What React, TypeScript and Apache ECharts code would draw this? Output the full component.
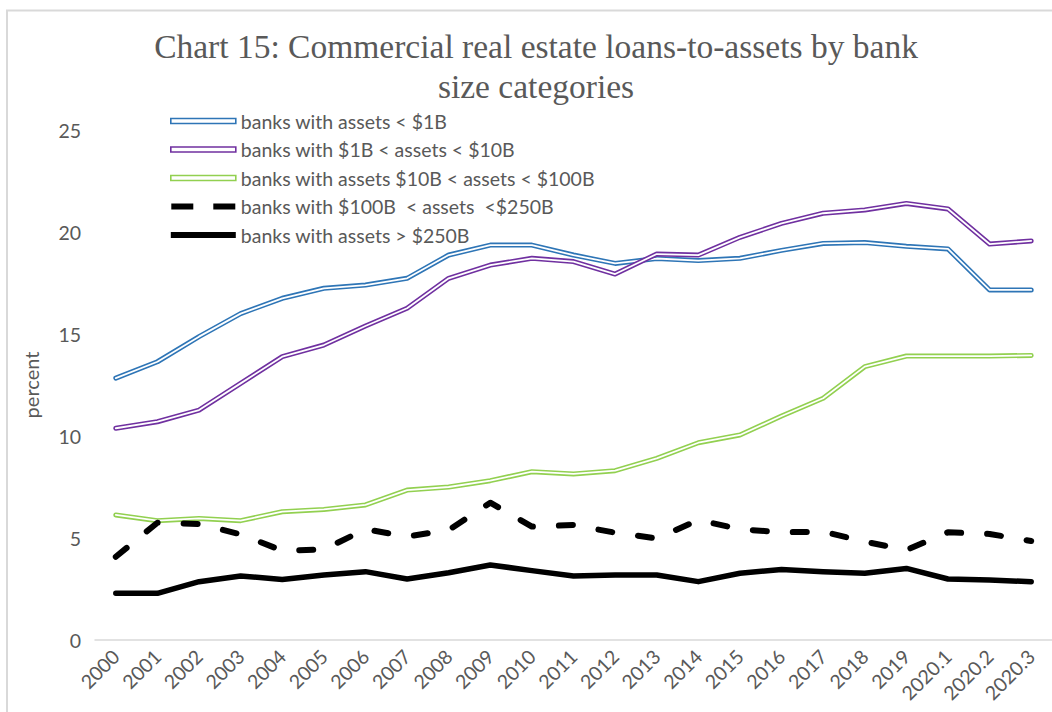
import React, { useEffect, useRef } from "react";
import * as echarts from "echarts";

const categories = [
  "2000", "2001", "2002", "2003", "2004", "2005", "2006", "2007", "2008", "2009",
  "2010", "2011", "2012", "2013", "2014", "2015", "2016", "2017", "2018", "2019",
  "2020.1", "2020.2", "2020.3",
];

const seriesNames = [
  "banks with assets < $1B",
  "banks with $1B < assets < $10B",
  "banks with assets $10B < assets < $100B",
  "banks with $100B  < assets  <$250B",
  "banks with assets > $250B",
];

const under1B = [12.84, 13.64, 14.87, 16.0, 16.75, 17.24, 17.4, 17.73, 18.87, 19.36, 19.36, 18.87, 18.46, 18.7, 18.6, 18.71, 19.1, 19.44, 19.48, 19.3, 19.17, 17.16, 17.16];
const from1to10B = [10.38, 10.7, 11.27, 12.58, 13.89, 14.46, 15.39, 16.26, 17.73, 18.38, 18.71, 18.55, 17.94, 18.92, 18.87, 19.74, 20.42, 20.92, 21.08, 21.4, 21.13, 19.41, 19.56];
const from10to100B = [6.13, 5.85, 5.96, 5.85, 6.29, 6.4, 6.62, 7.35, 7.5, 7.81, 8.25, 8.14, 8.3, 8.9, 9.67, 10.05, 10.98, 11.85, 13.4, 13.92, 13.92, 13.92, 13.95];
const from100to250B = [4.08, 5.75, 5.69, 5.18, 4.38, 4.44, 5.43, 5.07, 5.39, 6.73, 5.56, 5.64, 5.26, 4.98, 5.88, 5.43, 5.28, 5.31, 4.82, 4.41, 5.28, 5.2, 4.85];
const over250B = [2.29, 2.29, 2.86, 3.14, 2.97, 3.19, 3.35, 2.99, 3.3, 3.68, 3.4, 3.14, 3.19, 3.19, 2.86, 3.27, 3.46, 3.35, 3.27, 3.51, 2.99, 2.94, 2.86];

const yTicks = [0, 5, 10, 15, 20, 25];

const BLUE = "#2E75B6";
const PURPLE = "#7030A0";
const GREEN = "#92D050";
const GRAY_TEXT = "#595959";
const SANS = "Lato";

function doubleLine(name: string, data: number[], color: string, z: number) {
  return [
    {
      name,
      type: "line",
      data,
      symbol: "none",
      z,
      lineStyle: { color, width: 5, cap: "round", join: "round" },
      itemStyle: { color },
    },
    {
      name: name + " (core)",
      type: "line",
      data,
      symbol: "none",
      silent: true,
      z: z + 1,
      lineStyle: { color: "#ffffff", width: 1.8, cap: "round", join: "round" },
      itemStyle: { color: "#ffffff" },
    },
  ];
}

export default function App() {
  const ref = useRef<HTMLDivElement>(null);

  useEffect(() => {
    const chart = echarts.init(ref.current!, null, { renderer: "svg" });
    const outlineIcon = "path://M0,0H65V5H0Z";
    chart.setOption({
      animation: false,
      backgroundColor: "#ffffff",
      title: {
        text: "Chart 15: Commercial real estate loans-to-assets by bank\nsize categories",
        left: 536,
        textAlign: "center",
        top: 26,
        padding: 0,
        textStyle: {
          fontFamily: "Liberation Serif",
          fontSize: 33.5,
          fontWeight: "normal",
          color: GRAY_TEXT,
          lineHeight: 40,
        },
      },
      graphic: [
        {
          type: "rect",
          silent: true,
          z: -10,
          shape: { x: 7, y: 10.5, width: 1200, height: 900 },
          style: { fill: "none", stroke: "#d9d9d9", lineWidth: 2 },
        },
      ],
      legend: {
        orient: "vertical",
        left: 170,
        top: 111,
        padding: 0,
        itemWidth: 65,
        itemHeight: 6,
        itemGap: 8.5,
        selectedMode: false,
        textStyle: { fontFamily: SANS, fontSize: 19.5, color: GRAY_TEXT },
        data: [
          { name: seriesNames[0], icon: outlineIcon, itemStyle: { color: "#ffffff", borderColor: BLUE, borderWidth: 1.6 } },
          { name: seriesNames[1], icon: outlineIcon, itemStyle: { color: "#ffffff", borderColor: PURPLE, borderWidth: 1.6 } },
          { name: seriesNames[2], icon: outlineIcon, itemStyle: { color: "#ffffff", borderColor: GREEN, borderWidth: 1.6 } },
          { name: seriesNames[3], icon: "path://M0,0H22V6H0Z M42,0H64V6H42Z", itemStyle: { color: "#000000", borderWidth: 0 } },
          { name: seriesNames[4], icon: "path://M0,0H65V6H0Z", itemStyle: { color: "#000000", borderWidth: 0 } },
        ],
      },
      grid: { left: 95, top: 130, width: 959, height: 510, containLabel: false },
      xAxis: {
        type: "category",
        data: categories,
        boundaryGap: true,
        axisLine: { show: true, lineStyle: { color: "#d9d9d9", width: 1.5 } },
        axisTick: { show: false },
        axisLabel: {
          rotate: 45,
          interval: 0,
          margin: 13,
          fontFamily: SANS,
          fontSize: 19.5,
          color: GRAY_TEXT,
        },
      },
      yAxis: {
        type: "value",
        min: yTicks[0],
        max: yTicks[yTicks.length - 1],
        interval: 5,
        name: "percent",
        nameLocation: "middle",
        nameRotate: 90,
        nameGap: 54,
        nameTextStyle: { fontFamily: SANS, fontSize: 20, color: GRAY_TEXT },
        axisLine: { show: false },
        axisTick: { show: false },
        splitLine: { show: false },
        axisLabel: { margin: 14, fontFamily: SANS, fontSize: 19.5, color: GRAY_TEXT },
      },
      series: [
        ...doubleLine(seriesNames[0], under1B, BLUE, 2),
        ...doubleLine(seriesNames[1], from1to10B, PURPLE, 4),
        ...doubleLine(seriesNames[2], from10to100B, GREEN, 6),
        {
          name: seriesNames[3],
          type: "line",
          data: from100to250B,
          symbol: "none",
          z: 8,
          lineStyle: { color: "#000000", width: 6, type: [14, 26], cap: "round", join: "round" },
          itemStyle: { color: "#000000" },
        },
        {
          name: seriesNames[4],
          type: "line",
          data: over250B,
          symbol: "none",
          z: 9,
          lineStyle: { color: "#000000", width: 5.5, cap: "round", join: "round" },
          itemStyle: { color: "#000000" },
        },
      ],
    });
    return () => chart.dispose();
  }, []);

  return (
    <div
      ref={ref}
      style={{ position: "fixed", left: 0, top: 0, width: 1052, height: 712, background: "#ffffff" }}
    />
  );
}
